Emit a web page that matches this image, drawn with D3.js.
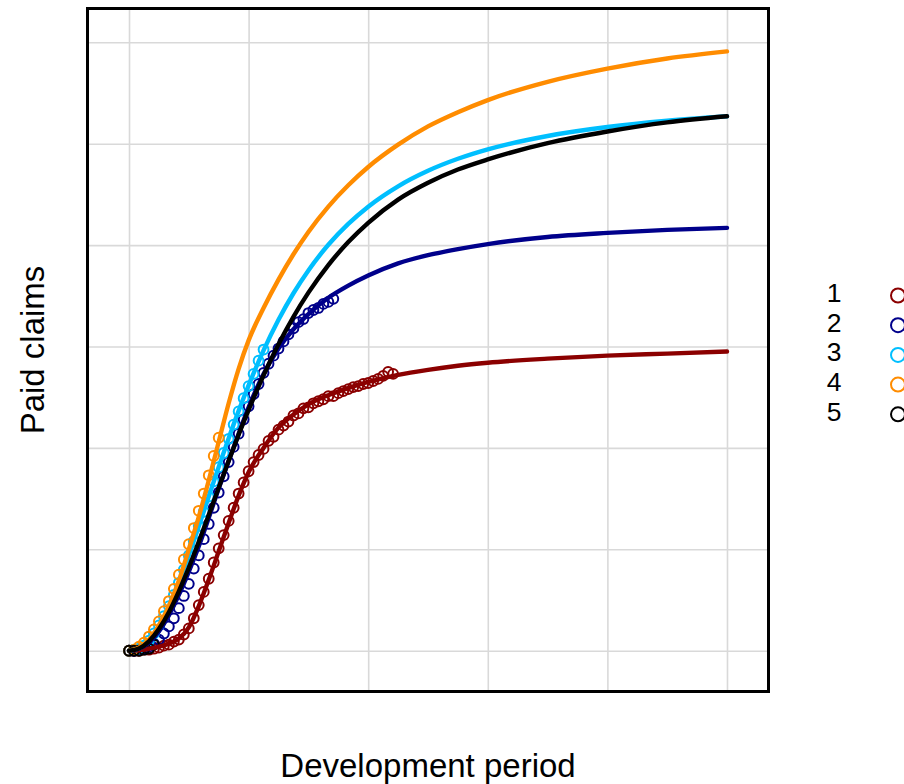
<!DOCTYPE html>
<html>
<head>
<meta charset="utf-8">
<script src="https://cdn.jsdelivr.net/npm/d3@7"></script>
<style>
  html, body { margin: 0; padding: 0; background: #fff; overflow: hidden; }
  svg { display: block; font-family: "Liberation Sans", Arial, sans-serif; }
</style>
</head>
<body>
<svg id="chart" width="904" height="784"></svg>
<script>
// Origin periods and their colours
const seriesNames = ["1", "2", "3", "4", "5"];
const seriesColors = ["#8b0000", "#00008b", "#00bfff", "#ff8c00", "#000000"];

// Fitted growth curves, sampled at these development periods
const fitPeriods = [0, 2, 4, 6, 8, 10, 12, 14, 16, 18, 20, 22, 24, 27, 30, 33, 36, 40, 44, 48, 54, 60, 66, 72, 84, 96, 108, 120];
const fit1 = [0, 0.005, 0.02, 0.04, 0.07, 0.12, 0.23, 0.44, 0.70, 0.98, 1.26, 1.53, 1.76, 2.00, 2.20, 2.33, 2.43, 2.52, 2.59, 2.65, 2.72, 2.77, 2.81, 2.84, 2.88, 2.91, 2.93, 2.95];
const fit2 = [0, 0.02, 0.08, 0.19, 0.35, 0.55, 0.78, 1.03, 1.31, 1.60, 1.87, 2.14, 2.40, 2.73, 2.98, 3.17, 3.32, 3.48, 3.60, 3.70, 3.82, 3.90, 3.96, 4.01, 4.08, 4.12, 4.15, 4.17];
const fit3 = [0, 0.024, 0.106, 0.246, 0.438, 0.674, 0.941, 1.227, 1.521, 1.813, 2.096, 2.365, 2.617, 2.961, 3.263, 3.525, 3.750, 4.003, 4.209, 4.379, 4.580, 4.733, 4.851, 4.944, 5.076, 5.164, 5.226, 5.270];
const fit4 = [0, 0.03, 0.11, 0.25, 0.44, 0.69, 1.00, 1.32, 1.68, 2.06, 2.44, 2.78, 3.06, 3.38, 3.66, 3.91, 4.13, 4.38, 4.59, 4.77, 4.99, 5.17, 5.31, 5.43, 5.61, 5.74, 5.84, 5.91];
const fit5 = [0, 0.022, 0.093, 0.214, 0.380, 0.586, 0.820, 1.075, 1.340, 1.609, 1.874, 2.130, 2.375, 2.716, 3.022, 3.293, 3.531, 3.803, 4.030, 4.220, 4.449, 4.615, 4.745, 4.845, 5.005, 5.120, 5.210, 5.270];

// Observed cumulative paid claims, one value per development period starting at 0
const obs1 = [0, 0, 0, 0.01, 0.01, 0.02, 0.03, 0.05, 0.06, 0.09, 0.11, 0.16, 0.22, 0.32, 0.45, 0.58, 0.71, 0.87, 1.01, 1.14,
              1.28, 1.41, 1.55, 1.66, 1.77, 1.86, 1.93, 1.99, 2.07, 2.11, 2.18, 2.22, 2.26, 2.32, 2.34, 2.39, 2.40, 2.44, 2.46, 2.48,
              2.51, 2.51, 2.54, 2.56, 2.58, 2.60, 2.61, 2.63, 2.64, 2.66, 2.68, 2.71, 2.75, 2.73];
const obs2 = [0, 0, 0.01, 0.02, 0.04, 0.07, 0.11, 0.17, 0.24, 0.32, 0.42, 0.54, 0.66, 0.81, 0.94, 1.10, 1.25, 1.41, 1.56, 1.72,
              1.86, 2.01, 2.14, 2.28, 2.41, 2.53, 2.63, 2.74, 2.83, 2.91, 2.98, 3.05, 3.12, 3.18, 3.24, 3.27, 3.33, 3.36, 3.38, 3.42,
              3.44, 3.47];
const obs3 = [0, 0.01, 0.02, 0.05, 0.10, 0.17, 0.25, 0.34, 0.44, 0.55, 0.67, 0.80, 0.94, 1.08, 1.23, 1.37, 1.52, 1.67, 1.81, 1.95,
              2.09, 2.23, 2.36, 2.49, 2.61, 2.73, 2.86, 2.97];
const obs4 = [0, 0.01, 0.04, 0.08, 0.14, 0.21, 0.29, 0.39, 0.49, 0.61, 0.75, 0.90, 1.05, 1.21, 1.38, 1.55, 1.73, 1.92, 2.10];
const obs5 = [0, 0, 0, 0.01, 0.02, 0.06];

// Grid positions
const xTicks = [0, 24, 48, 72, 96, 120];
const yTicks = [0, 1, 2, 3, 4, 5, 6];

const fits = [fit1, fit2, fit3, fit4, fit5];
const observations = [obs1, obs2, obs3, obs4, obs5];

const svg = d3.select("#chart");
const box = { left: 87.5, right: 768.5, top: 8.5, bottom: 691.5 };

const x = d3.scaleLinear().domain([-8.33, 128.33]).range([box.left, box.right]);
const y = d3.scaleLinear().domain([-0.402, 6.333]).range([box.bottom, box.top]);

svg.append("defs").append("clipPath").attr("id", "plot-clip")
  .append("rect")
  .attr("x", box.left).attr("y", box.top)
  .attr("width", box.right - box.left).attr("height", box.bottom - box.top);

// Grid lines (axes without labels)
const gridX = svg.append("g")
  .attr("transform", `translate(0,${box.bottom})`)
  .call(d3.axisBottom(x).tickValues(xTicks).tickFormat("").tickSize(-(box.bottom - box.top)).tickSizeOuter(0));
const gridY = svg.append("g")
  .attr("transform", `translate(${box.left},0)`)
  .call(d3.axisLeft(y).tickValues(yTicks).tickFormat("").tickSize(-(box.right - box.left)).tickSizeOuter(0));
[gridX, gridY].forEach(g => {
  g.select(".domain").remove();
  g.selectAll(".tick line").attr("stroke", "#d9d9d9").attr("stroke-width", 1.6);
});

const plot = svg.append("g").attr("clip-path", "url(#plot-clip)");

// Observed points
observations.forEach((vals, i) => {
  plot.append("g")
    .selectAll("circle")
    .data(vals)
    .join("circle")
    .attr("cx", (d, p) => x(p))
    .attr("cy", d => y(d))
    .attr("r", 4.9)
    .attr("fill", "none")
    .attr("stroke", seriesColors[i])
    .attr("stroke-width", 2);
});

// Fitted curves
const line = d3.line()
  .x((d, k) => x(fitPeriods[k]))
  .y(d => y(d))
  .curve(d3.curveMonotoneX);

fits.forEach((vals, i) => {
  plot.append("path")
    .datum(vals)
    .attr("d", line)
    .attr("fill", "none")
    .attr("stroke", seriesColors[i])
    .attr("stroke-width", 4.4)
    .attr("stroke-linecap", "round")
    .attr("stroke-linejoin", "round");
});

// Plot frame
svg.append("rect")
  .attr("x", box.left).attr("y", box.top)
  .attr("width", box.right - box.left).attr("height", box.bottom - box.top)
  .attr("fill", "none").attr("stroke", "#000").attr("stroke-width", 3);

// Axis titles
svg.append("text")
  .attr("x", (box.left + box.right) / 2).attr("y", 777)
  .attr("text-anchor", "middle")
  .attr("font-size", 33)
  .text("Development period");

svg.append("text")
  .attr("transform", `translate(44,${(box.top + box.bottom) / 2}) rotate(-90)`)
  .attr("text-anchor", "middle")
  .attr("font-size", 33)
  .text("Paid claims");

// Legend: stacked labels plus a symbol per series
const legendStep = 29.7;
const legendTop = 302;
const legend = svg.append("g");
legend.selectAll("text")
  .data(seriesNames)
  .join("text")
  .attr("x", 834)
  .attr("y", (d, i) => legendTop + i * legendStep)
  .attr("text-anchor", "middle")
  .attr("font-size", 26.5)
  .text(d => d);
legend.selectAll("circle")
  .data(seriesNames)
  .join("circle")
  .attr("cx", 898)
  .attr("cy", (d, i) => legendTop + i * legendStep - 6.5)
  .attr("r", 7)
  .attr("fill", "none")
  .attr("stroke", (d, i) => seriesColors[i])
  .attr("stroke-width", 2);
</script>
</body>
</html>
